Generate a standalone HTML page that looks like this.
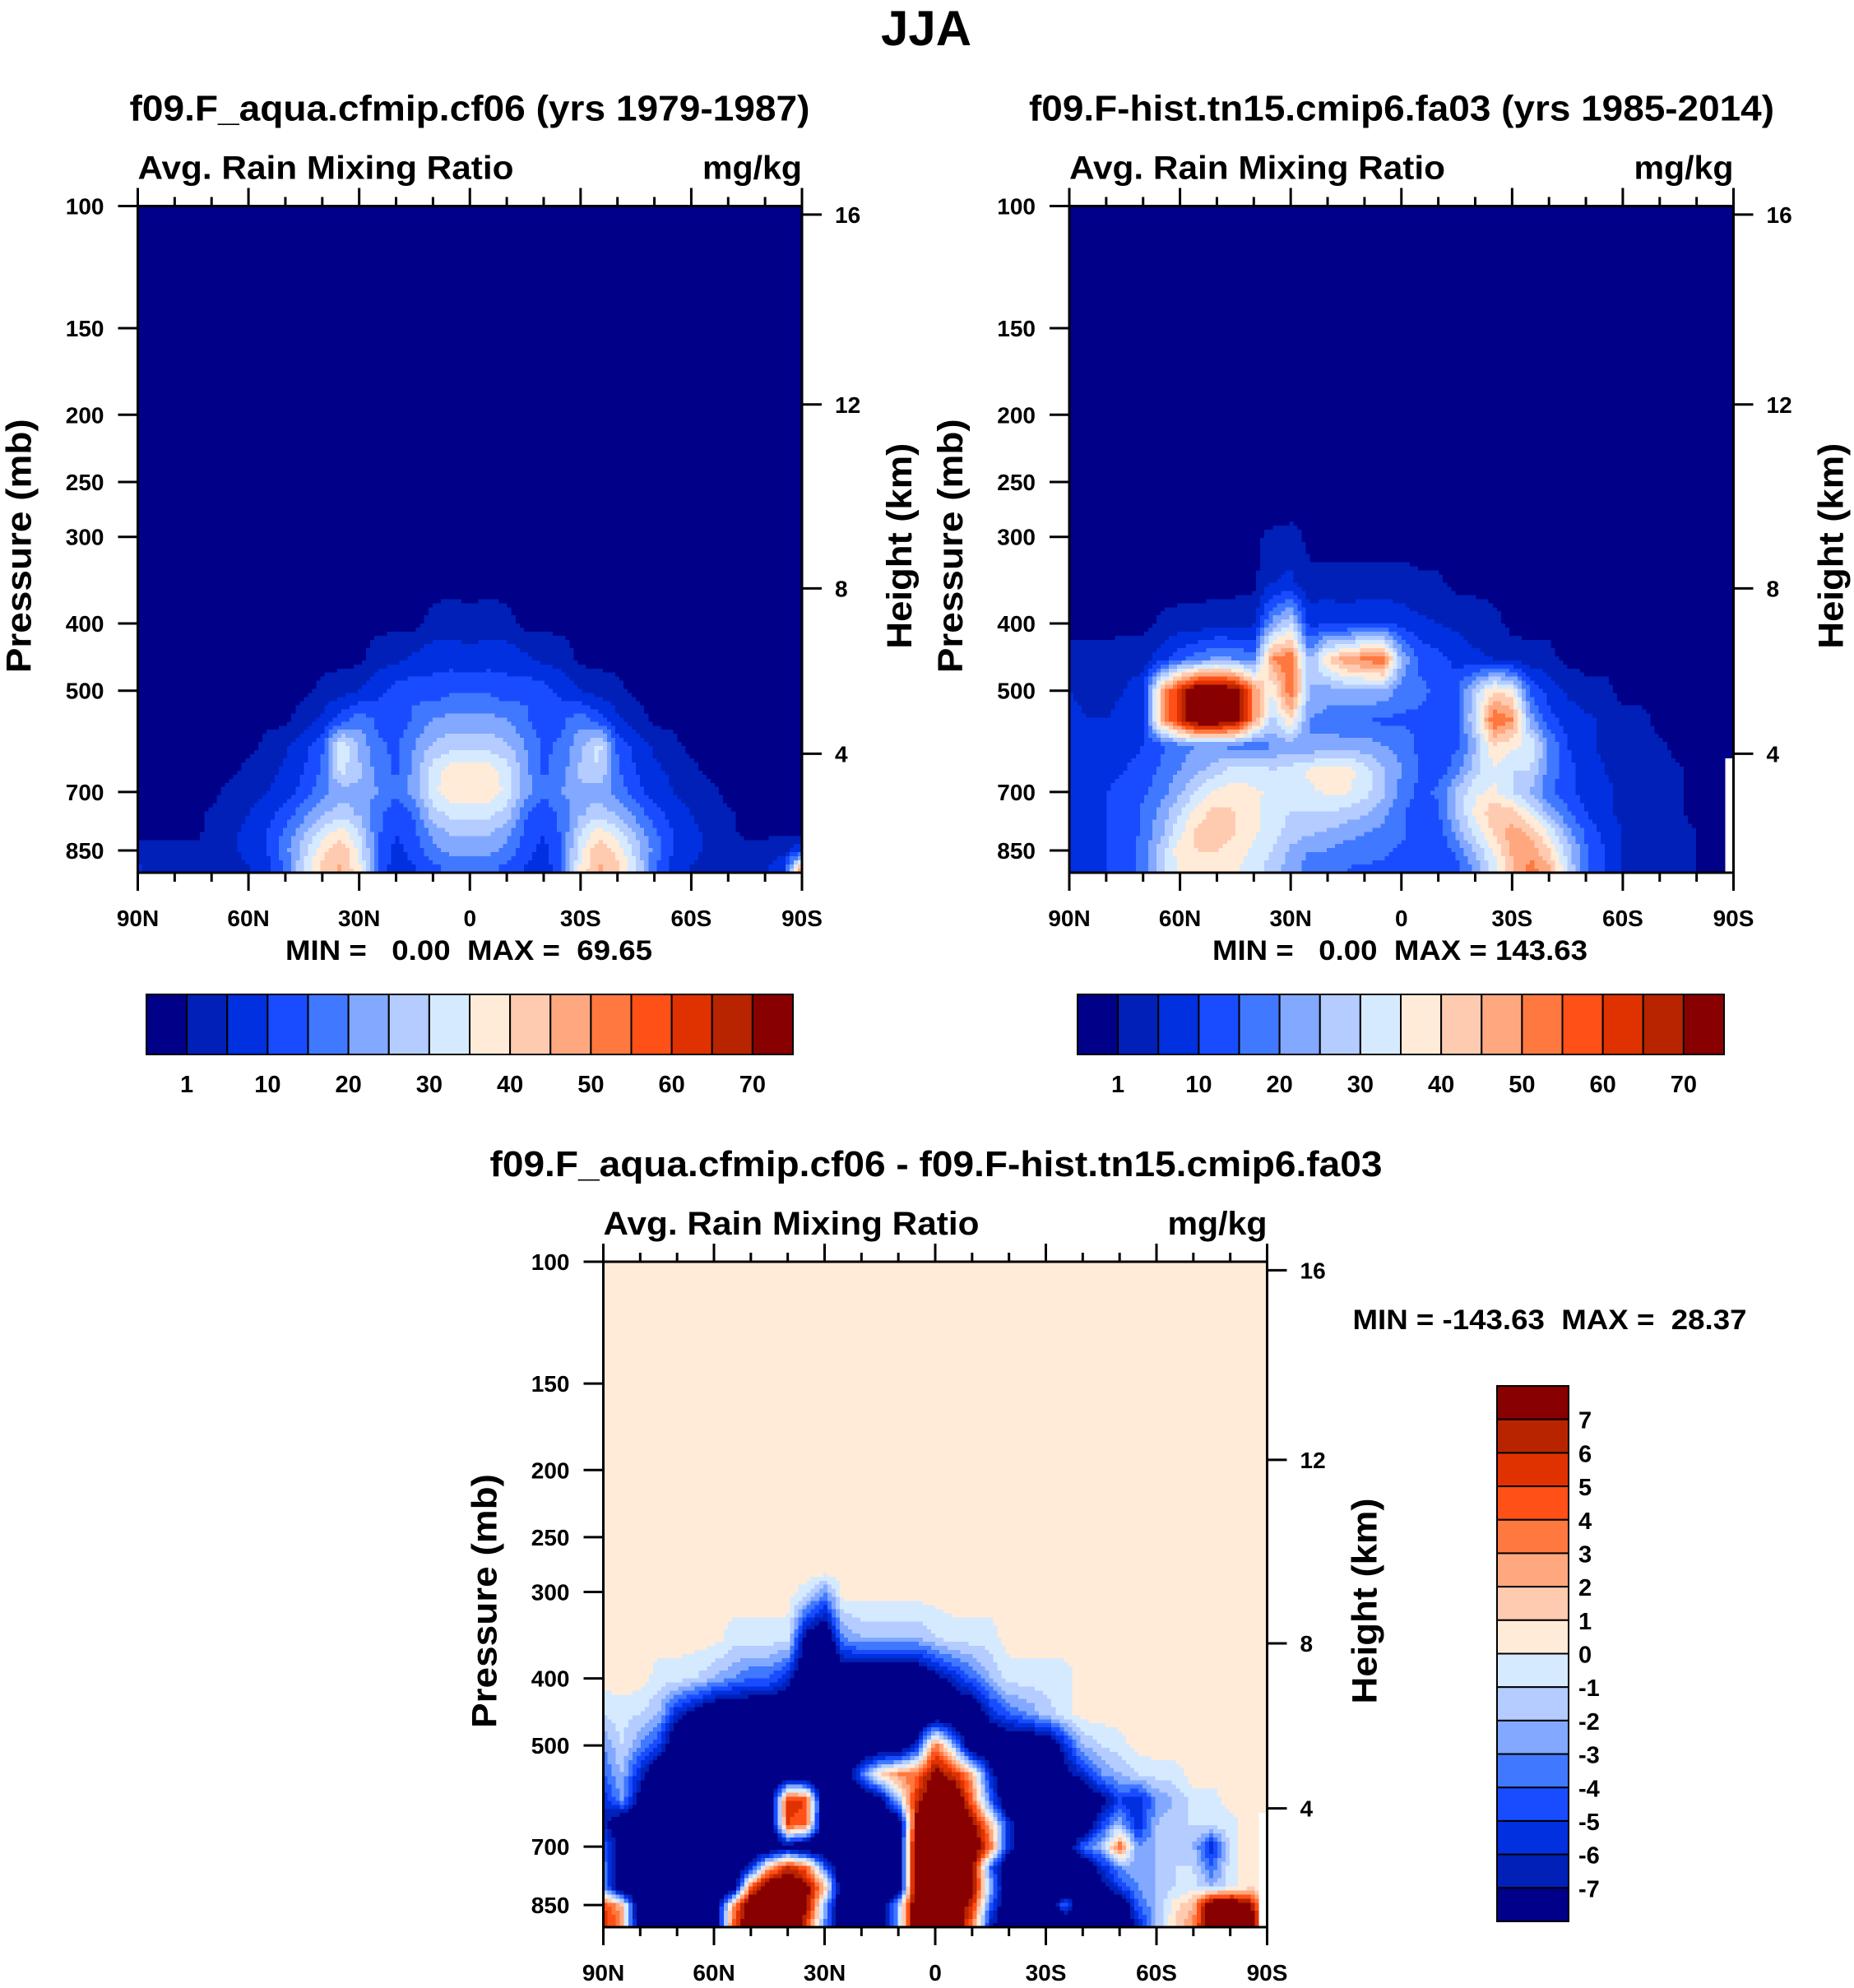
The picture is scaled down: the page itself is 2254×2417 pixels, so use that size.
<!DOCTYPE html>
<html><head><meta charset="utf-8"><title>JJA Avg. Rain Mixing Ratio</title>
<style>
html,body{margin:0;padding:0;background:#fff;}
svg{display:block;font-family:"Liberation Sans",Arial,sans-serif;font-weight:bold;}
text{white-space:pre;}
</style></head>
<body>
<svg id="fig" xmlns="http://www.w3.org/2000/svg" width="2254" height="2417" viewBox="0 0 2254 2417">
<rect x="0" y="0" width="2254" height="2417" fill="#fff"/>
<text x="1126" y="55" font-size="60" text-anchor="middle">JJA</text>
<g id="layer"></g>
</svg>
<script>
// ---------- data ----------
const lats = [];
for (let i = 0; i <= 36; i++) lats.push(90 - 5 * i);
const pLevels = [300,350,400,450,500,550,600,650,700,750,800,850,900];
const levelsAbs = [1,5,10,15,20,25,30,35,40,45,50,55,60,65,70];
const levelsDiff = [-7,-6,-5,-4,-3,-2,-1,0,1,2,3,4,5,6,7];
const cbLabelsAbs = ["1","10","20","30","40","50","60","70"];
const cbLabelsDiff = ["7","6","5","4","3","2","1","0","-1","-2","-3","-4","-5","-6","-7"];
const palette = ["#000088","#0020b8","#0030e0","#1a4cff","#4078ff","#82a8ff","#b4ccff","#d6eaff","#ffebd8","#ffcbb0","#ffa880","#ff7840","#ff5018","#e03200","#b82400","#880000"];
const pTicks = [100,150,200,250,300,400,500,700,850];
const zTicks = [4,8,12,16];
const latTicks = [90,60,30,0,-30,-60,-90];
const latTickLabels = ["90N","60N","30N","0","30S","60S","90S"];

const fieldA = [
[0,0,0,0,0,0,0,0,0,0,0,0,0,0,0,0,0,0,0,0,0,0,0,0,0,0,0,0,0,0,0,0,0,0,0,0,0],
[0,0,0,0,0,0,0,0,0,0,0,0,0,0,0,0,0,0,0,0,0,0,0,0,0,0,0,0,0,0,0,0,0,0,0,0,0],
[0,0,0,0,0,0,0,0,0,0,0,0,0,0,0,0,2,3,2,3,2,0,0,0,0,0,0,0,0,0,0,0,0,0,0,0,0],
[0,0,0,0,0,0,0,0,0,0,0,0,0,3,4,6,8,8,7,8,8,6,4,3,0,0,0,0,0,0,0,0,0,0,0,0,0],
[0,0,0,0,0,0,0,0,0,0,2,3,5,8,12,14,12,14,14,14,12,14,12,8,5,3,2,0,0,0,0,0,0,0,0,0,0],
[0,0,0,0,0,0,0,0,0,3,6,12,18,14,12,16,20,22,22,22,20,16,12,14,18,12,6,3,0,0,0,0,0,0,0,0,0],
[0,0,0,0,0,0,0,2,4,8,14,34,24,16,14,20,26,28,28,28,26,20,14,16,24,32,14,8,4,2,0,0,0,0,0,0,0],
[0,0,0,0,0,0,2,3,6,10,16,32,26,18,14,22,32,38,38,38,32,22,14,18,26,30,16,10,6,4,2,0,0,0,0,0,0],
[0,0,0,0,0,2,3,5,8,12,18,22,24,20,16,22,34,38,38,38,34,22,16,20,24,22,18,12,8,5,3,2,0,0,0,0,0],
[0,0,0,0,1.5,3,5,8,12,18,24,28,24,16,12,16,28,32,32,32,28,16,12,16,24,28,24,18,12,8,5,3,1.5,0,0,0,0],
[0,0,0,0,2,4,6,10,16,24,32,38,30,16,10,14,22,26,26,26,22,14,10,16,30,38,32,24,16,10,6,4,2,0,0,0,0],
[2,2,2,2,2,4,6,10,18,28,38,44,34,16,8,12,18,22,22,22,18,12,8,16,34,44,38,28,18,10,6,4,3,3,3,4,8],
[6,3,3,2,2,3,5,8,16,30,42,46,36,16,6,10,14,16,16,16,14,10,6,16,36,46,42,30,16,8,5,3,2,3,4,8,50]
];
const fieldB = [
[0,0,0,0,0,0,0,0,0,0,0,2,3,0,0,0,0,0,0,0,0,0,0,0,0,0,0,0,0,0,0,0,0,0,0,0,0],
[0,0,0,0,0,0,0,0,0,0,0,5,6,2,2,2,2,2,2,1.5,1.5,0,0,0,0,0,0,0,0,0,0,0,0,0,0,0,0],
[0,0,0,0,0,1.5,2,2,3,3,4,22,30,8,10,8,10,10,8,6,5,4,3,2,0,0,0,0,0,0,0,0,0,0,0,0,0],
[2,2,2,3,3,8,14,18,22,20,18,50,55,24,40,48,52,55,24,14,12,8,6,5,3,2,2,0,0,0,0,0,0,0,0,0,0],
[5,4,4,5,8,45,65,80,80,75,50,35,55,25,22,24,24,24,18,16,14,14,28,40,36,14,8,4,2,2,0,0,0,0,0,0,0],
[6,5,5,6,8,45,65,80,80,75,50,28,40,20,18,16,16,14,14,14,14,14,30,55,50,22,12,8,6,4,2,2,0,0,0,0,0],
[5,6,6,8,10,14,18,20,20,18,16,20,22,20,22,22,22,20,18,14,12,14,24,40,36,34,20,10,6,4,3,2,1.5,0,0,0,0],
[5,6,8,10,12,16,20,24,28,32,32,30,32,36,38,38,32,26,20,14,12,18,28,34,30,30,18,12,8,5,4,3,2,1.5,0,0,null],
[6,8,10,12,14,18,24,32,36,38,36,34,30,34,36,36,32,26,18,14,16,26,34,36,30,24,16,12,8,6,4,3,2,1.5,0,0,null],
[6,8,10,12,16,22,30,38,42,40,36,32,30,30,30,28,26,22,16,12,14,26,36,44,42,34,24,16,10,6,4,3,2,1.5,0,0,null],
[6,8,10,12,16,24,34,42,42,40,36,32,28,26,24,22,20,18,16,12,12,22,32,40,48,44,34,22,14,8,5,3,2,2,1,0,null],
[6,8,10,12,18,28,38,40,40,38,34,30,24,20,20,18,18,16,14,12,12,16,26,36,46,48,40,28,16,10,5,3,2,2,1,0,null],
[6,8,10,12,18,28,36,40,38,36,32,28,22,18,16,15,14,14,14,12,12,14,22,32,44,52,46,30,16,10,5,3,2,2,1,0,null]
];
const fieldD = [
[0.5,0.5,0.5,0.5,0.5,0.5,0.5,0.5,0.5,0.5,0.5,-0.5,-3,0.5,0.5,0.5,0.5,0.5,0.5,0.5,0.5,0.5,0.5,0.5,0.5,0.5,0.5,0.5,0.5,0.5,0.5,0.5,0.5,0.5,0.5,0.5,0.5],
[0.5,0.5,0.5,0.5,0.5,0.5,0.5,-0.5,-0.5,-0.5,-0.5,-8,-10,-3,-2,-2,-2,-2,-1,-0.5,-0.5,-0.5,0.5,0.5,0.5,0.5,0.5,0.5,0.5,0.5,0.5,0.5,0.5,0.5,0.5,0.5,0.5],
[0.5,0.5,0.5,-0.5,-0.5,-1,-2,-3,-4,-4,-6,-10,-10,-10,-10,-10,-10,-10,-8,-6,-4,-2,-0.5,-0.5,-0.5,-0.5,0.5,0.5,0.5,0.5,0.5,0.5,0.5,0.5,0.5,0.5,0.5],
[-1,-0.5,-1,-2,-6,-8,-10,-10,-10,-10,-10,-10,-10,-10,-10,-10,-10,-10,-10,-10,-10,-6,-4,-3,-1.5,-0.5,0.5,0.5,0.5,0.5,0.5,0.5,0.5,0.5,0.5,0.5,0.5],
[-3,-1,-3,-5,-10,-10,-10,-10,-10,-10,-10,-10,-10,-10,-10,-10,-10,-6,4,-2,-10,-10,-10,-10,-10,-6,-2,-1,-0.5,0.5,0.5,0.5,0.5,0.5,0.5,0.5,0.5],
[-4,-2,-6,-10,-10,-10,-10,-10,-10,-10,-10,-10,-10,-10,-4,1,3,4,8,6,2,-6,-10,-10,-10,-8,-6,-3,-2,-1,-0.5,-0.5,0.5,0.5,0.5,0.5,0.5],
[-6,-3,-8,-10,-10,-10,-10,-10,-10,-10,6,5,-10,-10,-10,-8,-2,6,10,10,4,-4,-10,-10,-10,-10,-10,-8,-5,-6,-3,-2,-0.5,-0.5,0.5,0.5,0.5],
[-6,-10,-10,-10,-10,-10,-10,-10,-10,-10,5,4,-10,-10,-10,-10,-10,8,10,10,8,2,-6,-10,-10,-10,-10,-5,-2,-6,-2,-1,-1,-0.5,-0.5,0.5,null],
[-4,-8,-10,-10,-10,-10,-10,-10,-10,-10,-8,-10,-10,-10,-10,-10,-10,10,10,10,10,4,-6,-10,-10,-10,-4,-2,4,-3,-2,-1,-2,-6,-0.5,0.5,null],
[-3,-10,-10,-10,-10,-10,-10,-10,-6,2,6,4,-4,-10,-10,-10,-10,10,10,10,8,-4,-10,-10,-10,-10,-10,-6,-3,-2,-2,-1,-1,-4,-0.5,0.5,null],
[-3,-10,-10,-10,-10,-10,-10,-10,4,10,10,8,2,-10,-10,-10,-10,10,10,10,8,-2,-10,-10,-10,-10,-10,-8,-5,-3,-2,-1,-0.5,-2,-0.5,0.5,null],
[5,2,-10,-10,-10,-10,-10,2,10,10,10,8,-2,-10,-10,-10,-2,10,10,10,6,-4,-10,-10,-10,-4,-10,-10,-10,-4,-2,0.5,2,10,10,8,null],
[6,3,-10,-10,-10,-10,-10,4,10,10,10,6,-3,-10,-10,-10,-2,10,10,10,4,-6,-10,-10,-10,-10,-10,-10,-10,-6,-2,1,3,10,10,10,null]
];

// ---------- helpers ----------
const NS = "http://www.w3.org/2000/svg";
const layer = document.getElementById("layer");
function mk(tag, attrs, parent) {
  const e = document.createElementNS(NS, tag);
  for (const k in attrs) e.setAttribute(k, attrs[k]);
  (parent || layer).appendChild(e);
  return e;
}
function colorFor(v, levels) {
  if (v === null) return "#ffffff";
  let n = 0;
  for (const l of levels) if (v >= l) n++;
  return palette[n];
}
const P_BOT = 915;
function zToP(z) {
  if (z <= 11) return 1013.25 * Math.pow(1 - 0.0065 * z * 1000 / 288.15, 5.25588);
  return 226.32 * Math.exp(-(z - 11) / 6.3416);
}
function sample(field, bgValue, fi, fj) {
  const i0 = Math.max(0, Math.min(36, Math.floor(fi))), i1 = Math.min(36, i0 + 1);
  const ti = Math.max(0, Math.min(1, fi - i0));
  const j0 = Math.floor(fj), j1 = j0 + 1, tj = fj - j0;
  const get = (j, i) => {
    if (j < 0) return bgValue;
    if (j >= field.length) j = field.length - 1;
    return field[j][i];
  };
  const near = get(tj < 0.5 ? j0 : j1, ti < 0.5 ? i0 : i1);
  if (near === null) return null;
  const v = (j, i) => { const x = get(j, i); return x === null ? bgValue : x; };
  const a = v(j0, i0) * (1 - ti) + v(j0, i1) * ti;
  const b = v(j1, i0) * (1 - ti) + v(j1, i1) * ti;
  return a * (1 - tj) + b * tj;
}
function pToRow(p) {
  if (p <= 280) return -1;
  if (p < 300) return -1 + (p - 280) / 20;
  for (let j = 0; j < pLevels.length - 1; j++) {
    if (p <= pLevels[j + 1]) return j + (p - pLevels[j]) / (pLevels[j + 1] - pLevels[j]);
  }
  return pLevels.length - 1;
}

function drawPanel(cfg) {
  const g = mk("g", {});
  
  
  const L = cfg.left, T = cfg.top, W = cfg.w, H = cfg.h;
  const xLat = lat => L + (90 - lat) / 180 * W;
  const yP = p => T + H * Math.log(p / 100) / Math.log(P_BOT / 100);
  const pY = y => 100 * Math.exp((y - T) / H * Math.log(P_BOT / 100));

  const bg = mk("rect", {x: L, y: T, width: W, height: H, fill: colorFor(cfg.bgValue, cfg.levels)}, g);
  
  

  const cells = mk("g", {"shape-rendering": "crispEdges"}, g);
  
  
  const yStart = yP(270);
  const nx = 160, ny = 90;
  const dx = W / nx, dy = (T + H - yStart) / ny;
  for (let r = 0; r < ny; r++) {
    const y0 = yStart + r * dy;
    const fj = pToRow(pY(y0 + dy / 2));
    let runStart = 0, runColor = null;
    for (let c = 0; c <= nx; c++) {
      let col = null;
      if (c < nx) {
        const lat = 90 - (c + 0.5) / nx * 180;
        const fi = (90 - lat) / 5;
        col = colorFor(sample(cfg.field, cfg.bgValue, fi, fj), cfg.levels);
      }
      if (c === nx || col !== runColor) {
        if (runColor !== null && c > runStart) {
          const rr = mk("rect", {x: (L + runStart * dx).toFixed(2), y: y0.toFixed(2), width: ((c - runStart) * dx + 0.6).toFixed(2), height: (dy + 0.6).toFixed(2), fill: runColor}, cells);
          
          
        }
        runStart = c; runColor = col;
      }
    }
  }
  const fr = mk("rect", {x: L, y: T, width: W, height: H, fill: "none", stroke: "#000", "stroke-width": 3}, g);
  
  

  for (let lat = 90; lat >= -90; lat -= 10) {
    const x = xLat(lat);
    const major = lat % 30 === 0;
    const len = major ? 22 : 11;
    const t1 = mk("line", {x1: x, x2: x, y1: T, y2: T - len, stroke: "#000", "stroke-width": 3}, g);
    
    
    const t2 = mk("line", {x1: x, x2: x, y1: T + H, y2: T + H + len, stroke: "#000", "stroke-width": 3}, g);
    
    
  }
  latTicks.forEach((lat, k) => {
    const t = mk("text", {x: xLat(lat), y: T + H + 65, "font-size": 28, "text-anchor": "middle"}, g);
    t.textContent = latTickLabels[k];
    
    
  });
  pTicks.forEach(p => {
    const y = yP(p);
    const l = mk("line", {x1: L, x2: L - 24, y1: y, y2: y, stroke: "#000", "stroke-width": 3}, g);
    
    
    const t = mk("text", {x: L - 41, y: y + 10, "font-size": 28, "text-anchor": "end"}, g);
    t.textContent = String(p);
    
    
  });
  zTicks.forEach(z => {
    const y = yP(zToP(z));
    const l = mk("line", {x1: L + W, x2: L + W + 24, y1: y, y2: y, stroke: "#000", "stroke-width": 3}, g);
    
    
    const t = mk("text", {x: L + W + 40, y: y + 10, "font-size": 28}, g);
    t.textContent = String(z);
    
    
  });
  const cy = T + H * 0.5 + 8;
  const ya = mk("text", {x: 0, y: 0, "font-size": 43, "text-anchor": "middle", textLength: 309, lengthAdjust: "spacingAndGlyphs", transform: `translate(${L - 130},${cy}) rotate(-90)`}, g);
  ya.textContent = "Pressure (mb)";
  
  
  const ya2 = mk("text", {x: 0, y: 0, "font-size": 43, "text-anchor": "middle", textLength: 250, lengthAdjust: "spacingAndGlyphs", transform: `translate(${L + W + 133},${cy}) rotate(-90)`}, g);
  ya2.textContent = "Height (km)";
  
  
  const lt = mk("text", {x: L, y: T - 33, "font-size": 40, textLength: 457, lengthAdjust: "spacingAndGlyphs"}, g);
  lt.textContent = "Avg. Rain Mixing Ratio";
  
  
  const rt = mk("text", {x: L + W, y: T - 33, "font-size": 40, "text-anchor": "end", textLength: 121, lengthAdjust: "spacingAndGlyphs"}, g);
  rt.textContent = "mg/kg";
  
  
  const tt = mk("text", {x: cfg.titleX, y: T - 104, "font-size": 44, "text-anchor": "middle", textLength: cfg.titleLen, lengthAdjust: "spacingAndGlyphs"}, g);
  tt.textContent = cfg.title;
  
  
  const mm = mk("text", {x: cfg.mmX, y: cfg.mmY, "font-size": 34, "text-anchor": "middle", textLength: cfg.mmLen, lengthAdjust: "spacingAndGlyphs"}, g);
  mm.textContent = cfg.mmText;
  
  
}

function drawHColorbar(left, top, w, h, name) {
  const g = mk("g", {});
  
  
  const bw = w / palette.length;
  palette.forEach((c, k) => {
    const r = mk("rect", {x: left + k * bw, y: top, width: bw, height: h, fill: c, stroke: "#000", "stroke-width": 2}, g);
    
    
  });
  cbLabelsAbs.forEach((lab, k) => {
    const b = k === 0 ? 1 : 2 * k + 1;
    const t = mk("text", {x: left + b * bw, y: top + h + 46, "font-size": 29, "text-anchor": "middle"}, g);
    t.textContent = lab;
    
    
  });
}
function drawVColorbar(left, top, w, h, name) {
  const g = mk("g", {});
  
  
  const bh = h / palette.length;
  palette.slice().reverse().forEach((c, k) => {
    const r = mk("rect", {x: left, y: top + k * bh, width: w, height: bh, fill: c, stroke: "#000", "stroke-width": 2}, g);
    
    
  });
  cbLabelsDiff.forEach((lab, k) => {
    const t = mk("text", {x: left + w + 12, y: top + (k + 1) * bh + 11, "font-size": 29}, g);
    t.textContent = lab;
    
    
  });
}

drawPanel({name: "panel-aqua", left: 167.5, top: 250.5, w: 807.5, h: 810.5, field: fieldA, levels: levelsAbs, bgValue: 0,
  title: "f09.F_aqua.cfmip.cf06 (yrs 1979-1987)", titleX: 571, titleLen: 827,
  mmText: "MIN =   0.00  MAX =  69.65", mmX: 570, mmY: 1167, mmLen: 446});
drawPanel({name: "panel-hist", left: 1300, top: 250.5, w: 807.5, h: 810.5, field: fieldB, levels: levelsAbs, bgValue: 0,
  title: "f09.F-hist.tn15.cmip6.fa03 (yrs 1985-2014)", titleX: 1704, titleLen: 906,
  mmText: "MIN =   0.00  MAX = 143.63", mmX: 1702, mmY: 1167, mmLen: 456});
drawPanel({name: "panel-diff", left: 733.5, top: 1534, w: 807, h: 809, field: fieldD, levels: levelsDiff, bgValue: 0.5,
  title: "f09.F_aqua.cfmip.cf06 - f09.F-hist.tn15.cmip6.fa03", titleX: 1138, titleLen: 1085,
  mmText: "MIN = -143.63  MAX =  28.37", mmX: 1884, mmY: 1616, mmLen: 479});
drawHColorbar(178, 1209, 786, 73, "colorbar-aqua");
drawHColorbar(1310, 1209, 786, 73, "colorbar-hist");
drawVColorbar(1820, 1685, 87, 651, "colorbar-diff");
</script>
</body></html>
